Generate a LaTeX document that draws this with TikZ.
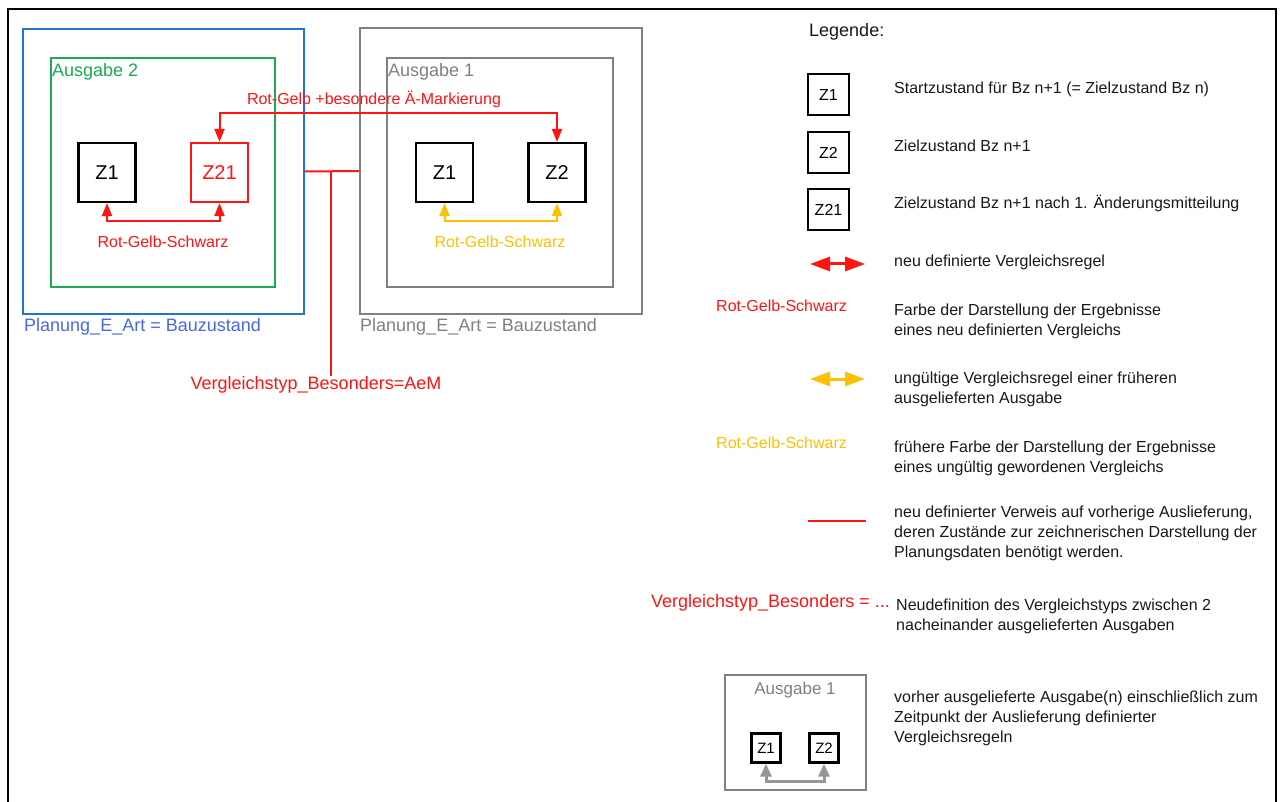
\documentclass[tikz,border=0pt]{standalone}
\usepackage{fontspec}
\setmainfont{Liberation Sans}
\usetikzlibrary{arrows.meta}
\definecolor{cred}{RGB}{255,20,20}
\definecolor{cyel}{RGB}{255,192,0}
\definecolor{cblue}{RGB}{30,118,205}
\definecolor{cbluetxt}{RGB}{70,105,235}
\definecolor{cgreen}{RGB}{28,170,80}
\definecolor{cgray}{RGB}{128,128,128}
\definecolor{clgray}{RGB}{150,150,150}
\definecolor{ctext}{RGB}{25,25,25}
\newcommand{\fs}[1]{\fontsize{#1}{20}\selectfont}
\begin{document}
\begin{tikzpicture}[x=1pt,y=-1pt,
  zbox/.style={draw=black,line width=2.2pt,minimum width=57pt,minimum height=59pt,inner sep=0pt,font=\fs{20}},
  lbox/.style={draw=black,line width=2pt,minimum width=41pt,minimum height=41pt,inner sep=0pt,font=\fs{16}},
  mbox/.style={draw=black,line width=2.4pt,minimum width=29pt,minimum height=29pt,inner sep=0pt,font=\fs{15}},
  frame/.style={draw,line width=2pt,inner sep=0pt},
  txt/.style={inner sep=0pt,font=\fs{18}},
  lbl/.style={inner sep=0pt,font=\fs{16}},
  desc/.style={inner sep=0pt,anchor=west,align=left,text=ctext,font=\fs{16}},
  rule/.style={line width=2pt,{Triangle[length=13pt,width=10pt]}-{Triangle[length=13pt,width=10pt]}},
  bigrule/.style={line width=3pt,{Triangle[length=20pt,width=14pt]}-{Triangle[length=20pt,width=14pt]}},
  minirule/.style={line width=3pt,{Triangle[length=13pt,width=11pt]}-{Triangle[length=13pt,width=11pt]}},
]
\useasboundingbox (0,0) rectangle (1280,802);
\fill[white] (0,0) rectangle (1280,802);

% outer frame, open at the bottom
\draw[line width=2.2pt] (8,802) -- (8,9) -- (1276,9) -- (1276,802);

% ---- Ausgabe 2 (left) ----
\node[frame,draw=cblue,minimum width=281pt,minimum height=285pt] (blue) at (163.5,171.5) {};
\node[frame,draw=cgreen,minimum width=224pt,minimum height=229pt] (green) at (163,172.5) {};
\node[txt,anchor=west,text=cgreen] (a2) at (52,72) {Ausgabe 2};
\node[zbox] (z1a) at (107,172.5) {Z1};
\node[zbox,draw=cred,text=cred] (z21) at (219.5,172.5) {Z21};
\node[txt,anchor=west,text=cbluetxt] (pa) at (24,327) {Planung\_E\_Art = Bauzustand};

% ---- Ausgabe 1 (right) ----
\node[frame,draw=cgray,minimum width=282pt,minimum height=286pt] (gout) at (501,171) {};
\node[frame,draw=cgray,minimum width=226pt,minimum height=229pt] (gin) at (500,172.5) {};
\node[txt,anchor=west,text=cgray] (a1) at (388,72) {Ausgabe 1};
\node[zbox] (z1b) at (444.5,172.5) {Z1};
\node[zbox] (z2) at (557,172.5) {Z2};
\node[txt,anchor=west,text=cgray] (pb) at (360,327) {Planung\_E\_Art = Bauzustand};

% ---- comparison rules ----
\coordinate (top) at (388,113);
\draw[rule,cred] (z21.north) |- (top) -| (z2.north);
\node[lbl,text=cred] (ltop) at (374,99) {Rot-Gelb +besondere Ä-Markierung};

\coordinate (botl) at (163,221);
\draw[rule,cred] (z1a.south) |- (botl) -| (z21.south);
\node[lbl,text=cred] (lbl1) at (163,242) {Rot-Gelb-Schwarz};

\coordinate (botr) at (500,221);
\draw[rule,cyel] (z1b.south) |- (botr) -| (z2.south);
\node[lbl,text=cyel] (lbl2) at (500,242) {Rot-Gelb-Schwarz};

% reference between the two deliveries
\node[txt,text=cred] (vt) at (316,385) {Vergleichstyp\_Besonders=AeM};
\draw[cred,line width=2pt] (blue.east) -- (gout.west);
\coordinate (vj) at (331,171.5);
\draw[cred,line width=2pt] (vj) -- (vt.north -| vj);

% ---- legend ----
\node[inner sep=0pt,anchor=west,text=ctext,font=\fs{18}] (leg) at (809,32) {Legende:};

\node[lbox] (lz1) at (828.5,94.5) {Z1};
\node[desc] (d1) at (894,89) {Startzustand für Bz n+1 (= Zielzustand Bz n)};
\node[lbox] (lz2) at (828.5,152.5) {Z2};
\node[desc] (d2) at (894,146) {Zielzustand Bz n+1};
\node[lbox] (lz21) at (828.5,209.5) {Z21};
\node[desc] (d3) at (894,203) {Zielzustand Bz n+1 nach 1. Änderungsmitteilung};

\coordinate (ra1) at (810,264);
\coordinate (ra2) at (865,264);
\draw[bigrule,cred] (ra1) -- (ra2);
\node[desc] (d4) at (894,262) {neu definierte Vergleichsregel};

\node[lbl,anchor=west,text=cred] (lr) at (716,306) {Rot-Gelb-Schwarz};
\node[desc] (d5) at (894,321) {Farbe der Darstellung der Ergebnisse\\eines neu definierten Vergleichs};

\coordinate (ya1) at (810,379);
\coordinate (ya2) at (865,379);
\draw[bigrule,cyel] (ya1) -- (ya2);
\node[desc] (d6) at (894,389) {ungültige Vergleichsregel einer früheren\\ausgelieferten Ausgabe};

\node[lbl,anchor=west,text=cyel] (ly) at (716,443) {Rot-Gelb-Schwarz};
\node[desc] (d7) at (894,458) {frühere Farbe der Darstellung der Ergebnisse\\eines ungültig gewordenen Vergleichs};

\coordinate (rl1) at (808,521);
\coordinate (rl2) at (866,521);
\draw[cred,line width=2.5pt] (rl1) -- (rl2);
\node[desc] (d8) at (894,533) {neu definierter Verweis auf vorherige Auslieferung,\\deren Zustände zur zeichnerischen Darstellung der\\Planungsdaten benötigt werden.};

\node[inner sep=0pt,anchor=east,text=cred,font=\fs{18}] (lv) at (890,603) {Vergleichstyp\_Besonders = ...};
\node[desc] (d9) at (896,616) {Neudefinition des Vergleichstyps zwischen 2\\nacheinander ausgelieferten Ausgaben};

\node[frame,draw=cgray,line width=1.6pt,minimum width=141pt,minimum height=115pt] (lg) at (795.5,732.5) {};
\node[inner sep=0pt,text=cgray,font=\fs{17}] (lga) at (795,690) {Ausgabe 1};
\node[mbox] (mz1) at (766,748) {Z1};
\node[mbox] (mz2) at (824,748) {Z2};
\coordinate (mb) at (795,781);
\draw[minirule,clgray] (mz1.south) |- (mb) -| (mz2.south);
\node[desc] (d10) at (894,718) {vorher ausgelieferte Ausgabe(n) einschließlich zum\\Zeitpunkt der Auslieferung definierter\\Vergleichsregeln};
\end{tikzpicture}
\end{document}
